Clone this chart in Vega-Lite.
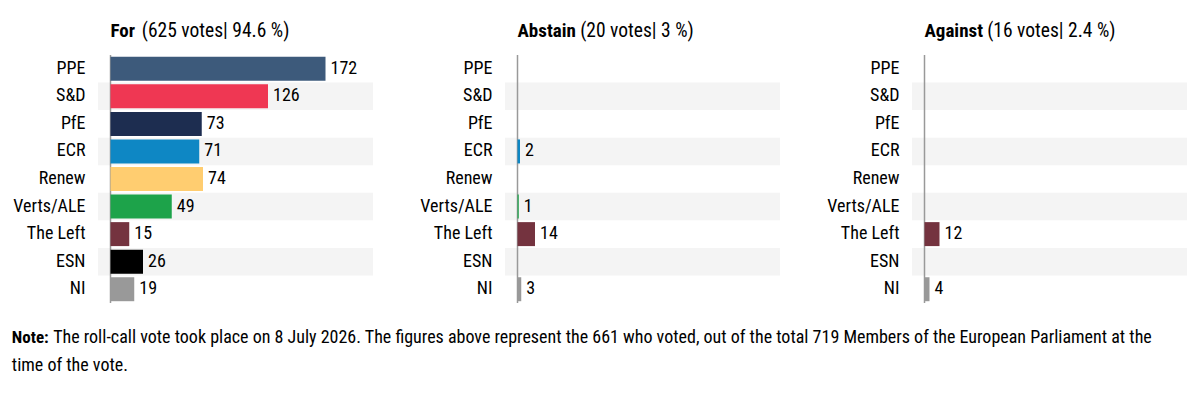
{
  "$schema": "https://vega.github.io/schema/vega-lite/v6.json",
  "padding": {"left": 11, "top": 21, "right": 5, "bottom": 5},
  "datasets": {
    "votes": [
      {"vote": "For", "party": "PPE", "n": 172},
      {"vote": "For", "party": "S&D", "n": 126},
      {"vote": "For", "party": "PfE", "n": 73},
      {"vote": "For", "party": "ECR", "n": 71},
      {"vote": "For", "party": "Renew", "n": 74},
      {"vote": "For", "party": "Verts/ALE", "n": 49},
      {"vote": "For", "party": "The Left", "n": 15},
      {"vote": "For", "party": "ESN", "n": 26},
      {"vote": "For", "party": "NI", "n": 19},
      {"vote": "Abstain", "party": "ECR", "n": 2},
      {"vote": "Abstain", "party": "Verts/ALE", "n": 1},
      {"vote": "Abstain", "party": "The Left", "n": 14},
      {"vote": "Abstain", "party": "NI", "n": 3},
      {"vote": "Against", "party": "The Left", "n": 12},
      {"vote": "Against", "party": "NI", "n": 4}
    ],
    "parties": [
      {"party": "PPE", "order": 0},
      {"party": "S&D", "order": 1},
      {"party": "PfE", "order": 2},
      {"party": "ECR", "order": 3},
      {"party": "Renew", "order": 4},
      {"party": "Verts/ALE", "order": 5},
      {"party": "The Left", "order": 6},
      {"party": "ESN", "order": 7},
      {"party": "NI", "order": 8}
    ]
  },
  "config": {
    "font": "Roboto Condensed",
    "view": {"stroke": null},
    "axisX": {"disable": true},
    "axisY": {"title": null, "ticks": false, "domain": false, "labelFont": "Roboto Condensed", "labelFontSize": 18, "labelColor": "#000000", "labelPadding": 13},
    "text": {"font": "Roboto Condensed"},
    "title": {"anchor": "start", "frame": "group", "font": "Roboto Condensed", "subtitleFont": "Roboto Condensed", "fontSize": 19, "fontWeight": "bold", "color": "#000000", "subtitleFontSize": 19.5, "subtitleColor": "#000000", "subtitleFontWeight": "normal", "subtitlePadding": -19, "lineHeight": 19, "subtitleLineHeight": 19, "dx": 12.5, "offset": 12}
  },
  "title": {
    "text": "Note:",
    "subtitle": ["\u200b\u00a0\u00a0\u00a0\u00a0\u00a0\u00a0\u00a0\u00a0\u00a0\u00a0The roll-call vote took place on 8 July 2026. The figures above represent the 661 who voted, out of the total 719 Members of the European Parliament at the", "time of the vote."],
    "orient": "bottom",
    "anchor": "start",
    "frame": "bounds",
    "font": "Roboto Condensed",
    "subtitleFont": "Roboto Condensed",
    "fontSize": 17,
    "subtitleFontSize": 18,
    "lineHeight": 18,
    "subtitleLineHeight": 28.5,
    "subtitlePadding": -18,
    "dx": -1,
    "offset": 26
  },
  "spacing": 46,
  "hconcat": [
    {
      "width": 275, "height": 248,
      "title": {"text": "For", "subtitle": "\u200b\u00a0\u00a0\u00a0\u00a0\u00a0\u00a0\u00a0(625 votes| 94.6 %)"},
      "layer": [
        {"data": {"name": "parties"}, "transform": [{"filter": "datum.order % 2 == 1"}],
         "mark": {"type": "bar", "color": "#f4f4f4", "height": {"band": 1}},
         "encoding": {
           "y": {"field": "party", "type": "nominal", "sort": null, "scale": {"domain": ["PPE","S&D","PfE","ECR","Renew","Verts/ALE","The Left","ESN","NI"], "paddingInner": 0, "paddingOuter": 0}},
           "x": {"datum": -10, "type": "quantitative", "scale": {"domain": [-10, 210], "nice": false, "zero": false}},
           "x2": {"datum": 210}}},
        {"data": {"values": [{}]}, "mark": {"type": "rule", "color": "#999999", "strokeWidth": 1.5},
         "encoding": {"x": {"datum": 0, "type": "quantitative"}}},
        {"data": {"name": "votes"}, "transform": [{"filter": "datum.vote == 'For'"}],
         "mark": {"type": "bar", "height": {"band": 0.87}},
         "encoding": {
           "y": {"field": "party", "type": "nominal", "sort": null},
           "x": {"field": "n", "type": "quantitative"},
           "color": {"field": "party", "type": "nominal", "legend": null, "scale": {"domain": ["PPE","S&D","PfE","ECR","Renew","Verts/ALE","The Left","ESN","NI"], "range": ["#3d5a7b","#ef3753","#1d2d50","#0e87c4","#ffcd70","#1da34a","#74333f","#000000","#999999"]}}}},
        {"data": {"name": "votes"}, "transform": [{"filter": "datum.vote == 'For'"}],
         "mark": {"type": "text", "align": "left", "baseline": "middle", "dx": 5, "fontSize": 18, "color": "#000000"},
         "encoding": {
           "y": {"field": "party", "type": "nominal", "sort": null},
           "x": {"field": "n", "type": "quantitative"},
           "text": {"field": "n", "type": "quantitative"}}}
      ]
    },
    {
      "width": 275, "height": 248,
      "title": {"text": "Abstain", "subtitle": "\u200b\u00a0\u00a0\u00a0\u00a0\u00a0\u00a0\u00a0\u00a0\u00a0\u00a0\u00a0\u00a0\u00a0\u00a0(20 votes| 3 %)"},
      "layer": [
        {"data": {"name": "parties"}, "transform": [{"filter": "datum.order % 2 == 1"}],
         "mark": {"type": "bar", "color": "#f4f4f4", "height": {"band": 1}},
         "encoding": {
           "y": {"field": "party", "type": "nominal", "sort": null, "scale": {"domain": ["PPE","S&D","PfE","ECR","Renew","Verts/ALE","The Left","ESN","NI"], "paddingInner": 0, "paddingOuter": 0}},
           "x": {"datum": -10, "type": "quantitative", "scale": {"domain": [-10, 210], "nice": false, "zero": false}},
           "x2": {"datum": 210}}},
        {"data": {"values": [{}]}, "mark": {"type": "rule", "color": "#999999", "strokeWidth": 1.5},
         "encoding": {"x": {"datum": 0, "type": "quantitative"}}},
        {"data": {"name": "votes"}, "transform": [{"filter": "datum.vote == 'Abstain'"}],
         "mark": {"type": "bar", "height": {"band": 0.87}},
         "encoding": {
           "y": {"field": "party", "type": "nominal", "sort": null},
           "x": {"field": "n", "type": "quantitative"},
           "color": {"field": "party", "type": "nominal", "legend": null, "scale": {"domain": ["PPE","S&D","PfE","ECR","Renew","Verts/ALE","The Left","ESN","NI"], "range": ["#3d5a7b","#ef3753","#1d2d50","#0e87c4","#ffcd70","#1da34a","#74333f","#000000","#999999"]}}}},
        {"data": {"name": "votes"}, "transform": [{"filter": "datum.vote == 'Abstain'"}],
         "mark": {"type": "text", "align": "left", "baseline": "middle", "dx": 5, "fontSize": 18, "color": "#000000"},
         "encoding": {
           "y": {"field": "party", "type": "nominal", "sort": null},
           "x": {"field": "n", "type": "quantitative"},
           "text": {"field": "n", "type": "quantitative"}}}
      ]
    },
    {
      "width": 275, "height": 248,
      "title": {"text": "Against", "subtitle": "\u200b\u00a0\u00a0\u00a0\u00a0\u00a0\u00a0\u00a0\u00a0\u00a0\u00a0\u00a0\u00a0\u00a0\u00a0(16 votes| 2.4 %)"},
      "layer": [
        {"data": {"name": "parties"}, "transform": [{"filter": "datum.order % 2 == 1"}],
         "mark": {"type": "bar", "color": "#f4f4f4", "height": {"band": 1}},
         "encoding": {
           "y": {"field": "party", "type": "nominal", "sort": null, "scale": {"domain": ["PPE","S&D","PfE","ECR","Renew","Verts/ALE","The Left","ESN","NI"], "paddingInner": 0, "paddingOuter": 0}},
           "x": {"datum": -10, "type": "quantitative", "scale": {"domain": [-10, 210], "nice": false, "zero": false}},
           "x2": {"datum": 210}}},
        {"data": {"values": [{}]}, "mark": {"type": "rule", "color": "#999999", "strokeWidth": 1.5},
         "encoding": {"x": {"datum": 0, "type": "quantitative"}}},
        {"data": {"name": "votes"}, "transform": [{"filter": "datum.vote == 'Against'"}],
         "mark": {"type": "bar", "height": {"band": 0.87}},
         "encoding": {
           "y": {"field": "party", "type": "nominal", "sort": null},
           "x": {"field": "n", "type": "quantitative"},
           "color": {"field": "party", "type": "nominal", "legend": null, "scale": {"domain": ["PPE","S&D","PfE","ECR","Renew","Verts/ALE","The Left","ESN","NI"], "range": ["#3d5a7b","#ef3753","#1d2d50","#0e87c4","#ffcd70","#1da34a","#74333f","#000000","#999999"]}}}},
        {"data": {"name": "votes"}, "transform": [{"filter": "datum.vote == 'Against'"}],
         "mark": {"type": "text", "align": "left", "baseline": "middle", "dx": 5, "fontSize": 18, "color": "#000000"},
         "encoding": {
           "y": {"field": "party", "type": "nominal", "sort": null},
           "x": {"field": "n", "type": "quantitative"},
           "text": {"field": "n", "type": "quantitative"}}}
      ]
    }
  ]
}
